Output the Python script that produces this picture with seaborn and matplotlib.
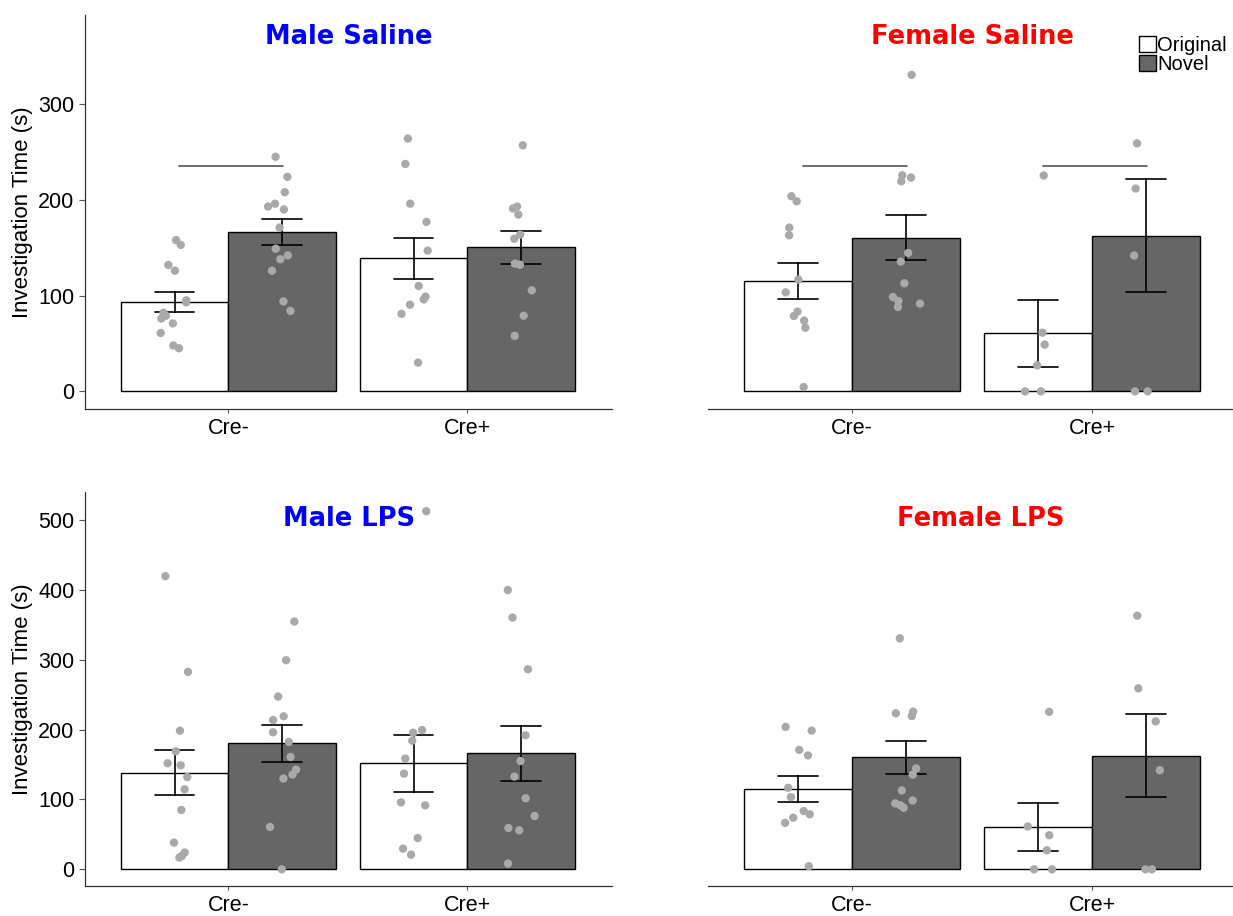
import numpy as np
import pandas as pd
import seaborn as sns
import matplotlib.pyplot as plt
from matplotlib.patches import Patch

# ---- data: investigation time (s) per animal ----
genotypes = ["Cre-", "Cre+"]
objects = ["Original", "Novel"]

male_saline_neg_original = [158, 153, 132, 126, 93, 95, 82, 79, 76, 71, 61, 48, 45]
male_saline_neg_novel = [245, 224, 208, 193, 190, 196, 171, 149, 142, 138, 126, 94, 84]
male_saline_pos_original = [264, 237.5, 196, 177, 147, 110, 99, 96, 90.5, 81, 30]
male_saline_pos_novel = [257, 193, 191, 184.6, 163.7, 159.4, 133.4, 132.3, 105.5, 79, 58]

female_saline_neg_original = [203.8, 198.5, 171, 163, 116.7, 103.4, 83.3, 78.7, 73.9, 66.5, 4.5]
female_saline_neg_novel = [330.5, 225.7, 223.3, 219.4, 144.5, 135.5, 112.9, 98.5, 94.4, 91.6, 88.1]
female_saline_pos_original = [225.4, 61.3, 48.8, 27.2, 0, 0]
female_saline_pos_novel = [363, 259, 211.8, 141.8, 0, 0]

male_lps_neg_original = [419.6, 282.5, 198.4, 168.9, 148.9, 151.8, 132.1, 114.5, 84.9, 38.2, 24, 19, 16.8]
male_lps_neg_novel = [354.6, 299.2, 247.2, 219, 213.7, 196.1, 182.3, 160.8, 142.7, 135.6, 129.9, 60.6, 0]
male_lps_pos_original = [512.5, 199.3, 195.5, 184, 158.5, 137, 95.9, 91.6, 44.8, 29.6, 21]
male_lps_pos_novel = [399.7, 360.3, 286.3, 191.8, 155, 132.7, 101.7, 76.3, 55.8, 59.1, 8.2]

female_lps_neg_original = female_saline_neg_original
female_lps_neg_novel = female_saline_neg_novel
female_lps_pos_original = female_saline_pos_original
female_lps_pos_novel = female_saline_pos_novel

panels = {
    "Male Saline": [male_saline_neg_original, male_saline_neg_novel,
                    male_saline_pos_original, male_saline_pos_novel],
    "Female Saline": [female_saline_neg_original, female_saline_neg_novel,
                      female_saline_pos_original, female_saline_pos_novel],
    "Male LPS": [male_lps_neg_original, male_lps_neg_novel,
                 male_lps_pos_original, male_lps_pos_novel],
    "Female LPS": [female_lps_neg_original, female_lps_neg_novel,
                   female_lps_pos_original, female_lps_pos_novel],
}

# significance bars: (genotype, height)
sig_bars = {
    "Male Saline": [("Cre-", 235)],
    "Female Saline": [("Cre-", 235), ("Cre+", 235)],
    "Male LPS": [],
    "Female LPS": [],
}

rows = []
for panel, groups in panels.items():
    keys = [(g, o) for g in genotypes for o in objects]
    for (g, o), vals in zip(keys, groups):
        for v in vals:
            rows.append({"panel": panel, "genotype": g, "object": o, "time": v})
df = pd.DataFrame(rows)

# ---- style ----
sns.set_style("ticks")
plt.rcParams["font.family"] = ["Liberation Sans", "DejaVu Sans"]
plt.rcParams["axes.edgecolor"] = "#333333"
plt.rcParams["axes.linewidth"] = 0.9
plt.rcParams["text.color"] = "black"
plt.rcParams["axes.labelcolor"] = "black"
plt.rcParams["xtick.labelcolor"] = "black"
plt.rcParams["ytick.labelcolor"] = "black"

np.random.seed(3)

fig = plt.figure(figsize=(12.33, 9.16), dpi=100)
layout = {
    "Male Saline": [0.0689, 0.5535, 0.4274, 0.4301],
    "Female Saline": [0.5742, 0.5535, 0.4258, 0.4301],
    "Male LPS": [0.0689, 0.0328, 0.4274, 0.4301],
    "Female LPS": [0.5742, 0.0328, 0.4258, 0.4301],
}
ylims = {"Male Saline": (-18.4, 393), "Female Saline": (-18.4, 393),
         "Male LPS": (-23.8, 540), "Female LPS": (-23.8, 540)}
yticks = {"Male Saline": [0, 100, 200, 300], "Male LPS": [0, 100, 200, 300, 400, 500]}
title_style = {
    "Male Saline": ("blue", 0.501, 0.944),
    "Female Saline": ("red", 0.503, 0.944),
    "Male LPS": ("blue", 0.501, 0.931),
    "Female LPS": ("red", 0.52, 0.931),
}
bar_colors = {"Original": "white", "Novel": "#666666"}

for panel, rect in layout.items():
    ax = fig.add_axes(rect)
    sub = df[df["panel"] == panel]
    sns.barplot(data=sub, x="genotype", y="time", hue="object",
                order=genotypes, hue_order=objects, palette=bar_colors,
                estimator="mean", errorbar="se", capsize=0.33, width=0.9,
                edgecolor="black", linewidth=1.0,
                err_kws={"color": "black", "linewidth": 1.2},
                legend=False, ax=ax, zorder=2)
    n_before = len(ax.collections)
    sns.stripplot(data=sub, x="genotype", y="time", hue="object",
                  order=genotypes, hue_order=objects,
                  palette={"Original": "#A9A9A9", "Novel": "#A9A9A9"},
                  dodge=True, jitter=0.11, size=6, linewidth=0,
                  legend=False, ax=ax, zorder=3)
    # widen the dodge so points sit over the centre of each bar
    for coll in ax.collections[n_before:]:
        off = coll.get_offsets()
        if len(off):
            base = np.round(off[:, 0])
            off[:, 0] = base + (off[:, 0] - base) * (0.45 / 0.4)
            coll.set_offsets(off)

    for g, h in sig_bars[panel]:
        c = genotypes.index(g)
        ax.plot([c - 0.205, c + 0.23], [h, h], color="#555555", lw=1.2, zorder=4)

    color, tx, ty = title_style[panel]
    ax.text(tx, ty, panel, transform=ax.transAxes, ha="center", va="center",
            fontsize=18.5, fontweight="bold", color=color, family="DejaVu Sans")

    ax.set_ylim(*ylims[panel])
    ax.set_xlim(-0.6, 1.605)
    ax.set_xlabel("")
    ax.tick_params(axis="x", labelsize=15.5, length=3, width=0.8, color="#555555")
    sns.despine(ax=ax)
    if panel in yticks:
        ax.set_yticks(yticks[panel])
        ax.tick_params(axis="y", labelsize=15.5, length=4, width=0.8, color="#555555")
        ax.set_ylabel("Investigation Time (s)", fontsize=16, labelpad=4)
    else:
        ax.spines["left"].set_visible(False)
        ax.set_yticks([])
        ax.set_ylabel("")
        ax.set_xlim(-0.6, 1.5875)

handles = [Patch(facecolor=bar_colors[o], edgecolor="black", linewidth=1.0, label=o)
           for o in objects]
leg = fig.legend(handles=handles, loc="upper left", bbox_to_anchor=(0.9125, 0.976),
                 frameon=True, fontsize=14.5, handlelength=0.85, handleheight=0.85,
                 handletextpad=0.05, labelspacing=0.0, borderpad=0.7, borderaxespad=0)
leg.get_frame().set_facecolor("white")
leg.get_frame().set_edgecolor("none")
leg.get_frame().set_alpha(1)

fig.savefig("out.png", dpi=100)
